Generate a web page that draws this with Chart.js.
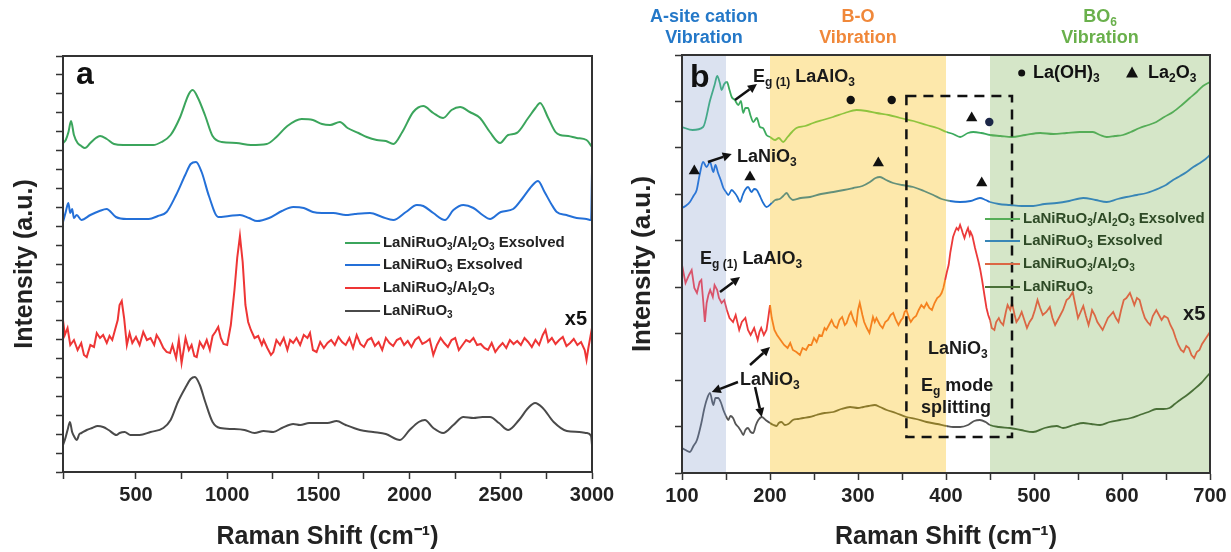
<!DOCTYPE html>
<html><head><meta charset="utf-8">
<script src="https://cdn.jsdelivr.net/npm/chart.js@4.4.1/dist/chart.umd.min.js"></script>
<style>
html,body{margin:0;padding:0;background:#fff;}
#wrap{position:relative;width:1231px;height:552px;overflow:hidden;background:#fff;}
#ca{position:absolute;left:0;top:0;}
#cb{position:absolute;left:600px;top:0;}
</style></head><body>
<div id="wrap"><canvas id="ca" width="640" height="552"></canvas><canvas id="cb" width="631" height="552"></canvas></div>
<script>
// ================= DATA =================
const seriesNames = ['LaNiRuO_{3}/Al_{2}O_{3} Exsolved', 'LaNiRuO_{3} Exsolved', 'LaNiRuO_{3}/Al_{2}O_{3}', 'LaNiRuO_{3}'];
const xTickLabelsA = [500, 1000, 1500, 2000, 2500, 3000];
const xTickLabelsB = [100, 200, 300, 400, 500, 600, 700];

// Panel a: [Raman shift, intensity (a.u., offset)]
const aGreen = [[100,329],[115,332],[130,340],[144,351],[160,337],[180,329],[200,326],[220,324],[250,329],[280,334],[303,336],[340,333],[380,328],[430,327],[480,327],[530,327],[595,327],[640,330],[690,337],[740,354],[790,378],[811,382],[840,374],[880,356],[920,336],[970,330],[1050,329],[1130,327],[1217,328],[1270,335],[1330,346],[1408,353],[1470,352],[1520,348],[1564,347],[1618,350],[1660,344],[1720,339],[1765,335],[1820,332],[1870,331],[1911,328],[1960,340],[2020,360],[2075,366],[2130,359],[2184,354],[2230,362],[2277,365],[2330,360],[2386,354],[2440,340],[2496,329],[2540,337],[2587,339],[2650,354],[2690,364],[2715,369],[2760,354],[2800,340],[2825,337],[2870,336],[2916,334],[2970,332],[3000,325]];
const aBlue = [[100,250],[115,260],[129,269],[140,259],[150,263],[160,254],[175,257],[201,252],[250,257],[300,261],[339,263],[390,255],[449,253],[510,253],[570,253],[620,256],[668,260],[720,277],[770,297],[800,308],[829,310],[860,300],[900,276],[951,255],[1010,256],[1070,257],[1120,254],[1164,251],[1230,254],[1300,261],[1362,265],[1420,264],[1470,260],[1520,259],[1582,259],[1650,257],[1700,258],[1783,259],[1850,255],[1911,252],[1980,260],[2040,267],[2075,266],[2130,259],[2194,252],[2240,262],[2295,267],[2350,264],[2400,257],[2441,253],[2500,260],[2568,263],[2620,274],[2670,286],[2704,291],[2740,280],[2780,267],[2807,260],[2860,257],[2916,254],[2970,253],[2995,252],[3000,300]];
const aRed = [[100,152],[110,137],[125,144],[140,127],[160,132],[180,122],[200,129],[215,117],[230,115],[250,127],[270,125],[285,139],[303,134],[320,137],[340,129],[355,136],[370,132],[385,142],[400,152],[410,167],[422,171],[435,154],[450,127],[465,139],[480,129],[500,135],[520,127],[540,140],[560,132],[580,134],[600,127],[613,137],[630,132],[650,124],[668,120],[687,119],[700,127],[720,114],[735,132],[750,109],[765,126],[772,134],[790,122],[805,127],[820,116],[833,115],[850,130],[870,124],[888,132],[905,122],[920,136],[935,140],[951,145],[965,134],[980,128],[1000,127],[1020,147],[1040,182],[1055,214],[1070,236],[1085,210],[1100,167],[1115,150],[1130,142],[1150,134],[1170,136],[1190,127],[1200,132],[1220,124],[1240,117],[1253,120],[1270,132],[1290,127],[1310,134],[1330,122],[1345,132],[1362,129],[1380,134],[1400,127],[1420,137],[1440,134],[1454,139],[1470,122],[1490,120],[1510,130],[1530,124],[1550,129],[1570,132],[1590,127],[1610,135],[1630,130],[1650,127],[1670,134],[1690,124],[1710,137],[1730,128],[1750,125],[1770,132],[1790,134],[1810,126],[1830,130],[1850,122],[1870,134],[1890,129],[1910,126],[1930,132],[1950,134],[1970,127],[1990,131],[2010,125],[2030,132],[2050,135],[2070,128],[2090,130],[2110,133],[2130,117],[2150,127],[2170,134],[2190,129],[2210,125],[2230,132],[2250,134],[2270,122],[2290,127],[2310,132],[2330,130],[2350,134],[2370,127],[2390,128],[2410,124],[2430,122],[2450,129],[2470,120],[2490,125],[2510,129],[2530,124],[2550,132],[2570,128],[2590,131],[2610,127],[2630,134],[2650,130],[2670,125],[2690,132],[2710,127],[2730,137],[2745,142],[2760,130],[2780,134],[2800,128],[2820,132],[2840,135],[2860,126],[2880,129],[2900,133],[2920,127],[2940,130],[2960,122],[2970,112],[2980,124],[2990,134],[3000,144]];
const aGrey = [[100,27],[110,32],[125,42],[138,50],[150,40],[160,36],[175,32],[190,38],[201,39],[230,42],[260,44],[290,46],[320,45],[350,42],[393,37],[410,39],[438,40],[470,37],[520,37],[580,40],[650,44],[690,52],[730,70],[770,84],[800,93],[823,95],[850,87],[880,70],[920,50],[961,44],[1030,43],[1095,42],[1150,39],[1200,41],[1253,40],[1300,44],[1362,48],[1400,47],[1450,49],[1500,49],[1550,49],[1600,51],[1650,47],[1728,42],[1800,40],[1870,38],[1947,32],[2000,42],[2050,50],[2084,52],[2130,44],[2184,39],[2240,47],[2295,55],[2350,54],[2400,55],[2441,55],[2490,49],[2541,42],[2600,52],[2650,64],[2688,69],[2730,64],[2790,50],[2862,41],[2930,40],[2970,39],[2995,36],[3000,27]];

// Panel b
const bGreen = [[100,346],[112,343],[124,346],[132,373],[137,388],[140,397],[143,390],[145,383],[148,389],[151,391],[154,383],[156.5,376],[160,373],[164,368],[167,372],[169.5,360],[172,365],[175,365],[178,357],[181,351],[185,355],[188.6,346],[192,345],[196,338],[200,336],[205.7,333],[210,335],[215,331],[220,336],[225,341],[230,345],[240,347],[249,350],[260,353],[271.6,356],[285,360],[298.5,363],[310,362],[321,360],[335,358],[348,355],[363,352],[378,348],[390,345],[400.8,341],[408,339],[416,336],[425,340],[431,341],[440,340],[450,338],[462,337],[474.7,336],[490,338],[507,340],[522,339],[537,340],[552,341],[567,341],[575,338],[582.6,336],[592,337],[601,338],[610,341],[620,345],[630,348],[639,351],[648,356],[658,361],[668,368],[677,375],[685,381],[692,387],[700,391]];
const bBlue = [[100,265],[104,267],[109,271],[113,277],[116.7,283],[120,298],[124,311],[128,306],[131.8,311],[135.6,301],[138,308],[141,300],[144,293],[147,285],[150,281],[152.6,278],[156.5,283],[160,280],[163,276],[166,271],[169,278],[171.6,283],[175,286],[179,281],[182,284],[185,283],[188,278],[190.6,273],[193,269],[196,266],[202,270],[206,273],[211,274],[215,277],[219,280],[222,276],[226,273],[235,275],[245.5,276],[258,279],[272,281],[284,283],[294.7,285],[305,287],[313.6,291],[320,295],[325,296],[332,293],[340,290],[350,288],[362.8,286],[375,282],[385.6,278],[395,274],[404.5,272],[416,271],[428,272],[438.6,275],[445,273],[450,271],[460,269],[472.7,268],[486,267],[499,267],[512,269],[525.8,270],[540,272],[556,275],[570,273],[582.6,271],[595,274],[605,276],[617,278],[628,280],[643,285],[650,288],[658,293],[666,297],[673.5,301],[681,306],[688.6,310],[695,314],[700,318]];
const bRed = [[100,208],[104,190],[108,198],[111,203],[114,185],[117,180],[120,191],[122,193],[124,173],[126,151],[128,170],[130,178],[132,183],[135,176],[137,188],[140,183],[142,175],[145,170],[148,173],[151,163],[154,155],[158,151],[161,158],[165,143],[168,151],[172,155],[175,143],[178,138],[182,145],[186,133],[188,141],[190,145],[193,138],[196,143],[198,155],[200,168],[202,155],[205,143],[208,138],[212,133],[216,128],[220,125],[223,130],[226,123],[230,121],[234,118],[237,125],[241,123],[244,128],[247,128],[250,135],[253,131],[256,138],[259,137],[262,145],[264,143],[267,148],[270,153],[273,147],[276,145],[279,153],[282,156],[285,148],[287,150],[290,158],[292,161],[295,153],[298,148],[300,163],[302,170],[305,158],[307,151],[310,145],[313,140],[315,148],[317,156],[319,151],[321,155],[325,148],[328,145],[331,151],[334,153],[337,158],[340,160],[343,153],[346,148],[349,153],[351,155],[353,161],[355,163],[358,155],[360,151],[363,155],[366,157],[369,163],[372,168],[375,165],[378,170],[381,165],[384,163],[387,170],[390,175],[393,177],[395,180],[397,185],[399,193],[401,201],[403,208],[405,221],[408,236],[410,241],[412,245],[414,243],[416,248],[418,243],[419,240],[421,235],[422,238],[424,243],[425,245],[427,238],[428,241],[430,237],[431,233],[433,225],[435,218],[437,211],[439,203],[441,193],[444,176],[446,165],[448,158],[450,153],[452,145],[455,143],[457,151],[460,155],[462,151],[465,148],[468,161],[470,168],[473,163],[475,170],[478,158],[480,151],[483,155],[486,161],[489,153],[492,145],[495,151],[498,155],[501,163],[504,173],[507,165],[510,158],[514,161],[518,166],[521,155],[524,148],[527,153],[530,158],[533,163],[537,173],[540,175],[544,181],[547,168],[550,155],[553,161],[556,167],[559,157],[562,148],[564,155],[566,163],[569,158],[572,151],[575,147],[578,143],[581,149],[584,155],[587,158],[590,161],[593,155],[596,151],[599,163],[602,173],[605,175],[609,180],[612,173],[614,168],[617,175],[620,173],[623,163],[626,155],[629,151],[632,148],[635,157],[639,163],[642,158],[645,153],[648,157],[652,155],[655,148],[658,143],[661,135],[664,128],[667,123],[670,121],[673,127],[676,125],[679,118],[682,115],[685,121],[688,123],[691,129],[694,133],[697,137],[700,141]];
const bGrey = [[100,25],[104,23],[109,21],[113,27],[117,33],[122,50],[125,63],[128,73],[131.8,80],[135.6,68],[138,75],[141,75],[144,71],[147,63],[150,57],[152.6,53],[155,57],[158,55],[161,49],[164,46],[167,42],[169.7,38],[172,43],[175,45],[178,41],[181,40],[184,48],[186.7,53],[190.6,56],[195,53],[200,50],[204,48],[207.6,47],[210,50],[213,51],[217,48],[220.8,49],[226,53],[232,54],[237.8,55],[245,56],[253,58],[262,60],[272,61],[281,64],[291,66],[300,65],[306,66],[312,67],[319,68],[325,66],[332.6,63],[343,60],[355,56],[366,54],[378,51],[390,49],[400.8,47],[408,46],[416,46],[425,48],[432,52],[438.6,53],[445,51],[450,48],[460,46],[472.7,45],[485,43],[499,41],[512,45],[525.8,47],[533,45],[545,48],[556,50],[565,49],[575,48],[586,51],[597.7,53],[610,55],[620,58],[630,61],[639,64],[647,64],[654,65],[660,69],[666,73],[674,78],[681,83],[690,90],[695,95],[700,100]];
// Panel b peak markers
const bTriangles = [[114,302],[177.3,296],[323.1,310],[440.6,290],[429.2,355]];
const bCircles = [[291.7,373],[338.3,373],[449.2,351]];

// ================= STYLE / LAYOUT =================
const FONT = "'Liberation Sans', Arial, Helvetica, sans-serif";
const aColors = ['#3ba55c', '#2470d8', '#ee3535', '#4a4a4a'];
// per region colors in panel b: [blue band, white, orange band, white, green band]
const bColors = [
  ['#45a98a', '#3caa5e', '#8fc43e', '#3caa5e', '#55ad57'],
  ['#2c76d6', '#1f6fd0', '#64907a', '#1f6fd0', '#3886b6'],
  ['#d9536a', '#ec3a3a', '#f5821f', '#ec3a3a', '#db6744'],
  ['#5b6578', '#555555', '#8c7a2c', '#555555', '#4a7038']
];
const bands = [
  {from: 100, to: 150, color: '#dbe2f0'},
  {from: 200, to: 400, color: '#fde8ab'},
  {from: 450, to: 700, color: '#d5e6c8'}
];

function region(x) { if (x < 150) return 0; if (x < 200) return 1; if (x < 400) return 2; if (x < 450) return 3; return 4; }
function pts(arr) { return arr.map(p => ({x: p[0], y: p[1]})); }

function parseRich(s) {
  const out = []; let i = 0, buf = '';
  while (i < s.length) {
    if ((s[i] === '_' || s[i] === '^') && s[i + 1] === '{') {
      if (buf) { out.push({t: buf, m: 0}); buf = ''; }
      const j = s.indexOf('}', i);
      out.push({t: s.slice(i + 2, j), m: s[i] === '_' ? 1 : 2});
      i = j + 1;
    } else { buf += s[i]; i++; }
  }
  if (buf) out.push({t: buf, m: 0});
  return out;
}
function drawRich(ctx, s, x, y, size, color, align) {
  const parts = parseRich(s);
  let w = 0;
  parts.forEach(p => { p.sz = p.m ? Math.round(size * 0.68) : size; ctx.font = 'bold ' + p.sz + 'px ' + FONT; p.w = ctx.measureText(p.t).width; w += p.w; });
  let cx = align === 'center' ? x - w / 2 : (align === 'right' ? x - w : x);
  ctx.fillStyle = color; ctx.textBaseline = 'middle'; ctx.textAlign = 'left';
  parts.forEach(p => {
    ctx.font = 'bold ' + p.sz + 'px ' + FONT;
    const dy = p.m === 1 ? size * 0.3 : (p.m === 2 ? -size * 0.35 : 0);
    ctx.fillText(p.t, cx, y + dy);
    cx += p.w;
  });
}
function arrow(ctx, x1, y1, x2, y2) {
  const ang = Math.atan2(y2 - y1, x2 - x1), hl = 9, hw = 4.5;
  const bx = x2 - hl * Math.cos(ang), by = y2 - hl * Math.sin(ang);
  ctx.strokeStyle = '#111'; ctx.fillStyle = '#111'; ctx.lineWidth = 2.5;
  ctx.beginPath(); ctx.moveTo(x1, y1); ctx.lineTo(bx, by); ctx.stroke();
  ctx.beginPath(); ctx.moveTo(x2, y2);
  ctx.lineTo(bx + hw * Math.sin(ang), by - hw * Math.cos(ang));
  ctx.lineTo(bx - hw * Math.sin(ang), by + hw * Math.cos(ang));
  ctx.closePath(); ctx.fill();
}
function P(chart, x, y) { return [chart.scales.x.getPixelForValue(x), chart.scales.y.getPixelForValue(y)]; }

function axisCommon(extra) {
  return Object.assign({
    grid: {drawOnChartArea: false, drawTicks: true, tickLength: 7, tickColor: '#333', tickWidth: 1.5},
    border: {display: true, color: '#333', width: 2}
  }, extra);
}

Chart.defaults.font.family = FONT;
Chart.defaults.color = '#222';

// ================= PANEL A =================
const decoA = {
  id: 'decoA',
  afterDraw(chart) {
    const ctx = chart.ctx, a = chart.chartArea;
    ctx.save();
    ctx.strokeStyle = '#333'; ctx.lineWidth = 2;
    ctx.strokeRect(a.left, a.top, a.right - a.left, a.bottom - a.top);
    let [px, py] = P(chart, 171, 397);
    drawRich(ctx, 'a', px, py, 32, '#111', 'left');
    const legY = [229, 207, 184, 161];
    legY.forEach((yv, i) => {
      const [x1, yy] = P(chart, 1646, yv), [x2] = P(chart, 1838, yv), [tx] = P(chart, 1854, yv);
      ctx.strokeStyle = aColors[i]; ctx.lineWidth = 2;
      ctx.beginPath(); ctx.moveTo(x1, yy); ctx.lineTo(x2, yy); ctx.stroke();
      drawRich(ctx, seriesNames[i], tx, yy, 15, '#222', 'left');
    });
    [px, py] = P(chart, 2912, 153);
    drawRich(ctx, 'x5', px, py, 20, '#111', 'center');
    ctx.restore();
  }
};

new Chart(document.getElementById('ca'), {
  type: 'line',
  data: {
    datasets: [aGreen, aBlue, aRed, aGrey].map((d, i) => ({
      label: seriesNames[i], data: pts(d), borderColor: aColors[i], borderWidth: 2,
      pointRadius: 0, cubicInterpolationMode: i === 2 ? 'default' : 'monotone', tension: 0
    }))
  },
  options: {
    responsive: false, animation: false, devicePixelRatio: 1,
    layout: {padding: {top: 56, right: 48, bottom: 0, left: 0}},
    plugins: {legend: {display: false}, tooltip: {enabled: false}},
    scales: {
      x: axisCommon({
        type: 'linear', min: 100, max: 3000,
        ticks: {stepSize: 250, autoSkip: false, maxRotation: 0, padding: 4, color: '#222',
          font: {size: 20, weight: 'bold'}, callback: v => xTickLabelsA.includes(v) ? String(v) : ''},
        title: {display: true, text: 'Raman Shift (cm⁻¹)', color: '#222', font: {size: 25, weight: 'bold'}, padding: {top: 0, bottom: 0}},
        afterFit: s => { s.height = 80; }
      }),
      y: axisCommon({
        type: 'linear', min: 0, max: 416,
        ticks: {count: 23, callback: () => '', font: {size: 10}},
        title: {display: true, text: 'Intensity (a.u.)', color: '#222', font: {size: 25, weight: 'bold'}, padding: {top: 10, bottom: 0}},
        afterFit: s => { s.width = 63; }
      })
    }
  },
  plugins: [decoA]
});

// ================= PANEL B =================
const decoB = {
  id: 'decoB',
  beforeDraw(chart) {
    const ctx = chart.ctx, a = chart.chartArea, x = chart.scales.x;
    ctx.save();
    bands.forEach(b => {
      const x1 = x.getPixelForValue(b.from), x2 = x.getPixelForValue(b.to);
      ctx.fillStyle = b.color; ctx.fillRect(x1, a.top, x2 - x1, a.bottom - a.top);
    });
    ctx.restore();
  },
  afterDatasetsDraw(chart) {
    const ctx = chart.ctx;
    const [x1, y1] = P(chart, 355, 377), [x2, y2] = P(chart, 475, 36);
    ctx.save();
    ctx.strokeStyle = '#111'; ctx.lineWidth = 2.5; ctx.setLineDash([10, 7]);
    ctx.strokeRect(x1, y1, x2 - x1, y2 - y1);
    ctx.restore();
  },
  afterDraw(chart) {
    const ctx = chart.ctx, a = chart.chartArea;
    ctx.save();
    ctx.strokeStyle = '#333'; ctx.lineWidth = 2;
    ctx.strokeRect(a.left, a.top, a.right - a.left, a.bottom - a.top);
    // band headers
    const heads = [[125, 'A-site cation', 'Vibration', '#2478c8'], [300, 'B-O', 'Vibration', '#f0883a'], [575, 'BO_{6}', 'Vibration', '#6ab04c']];
    heads.forEach(h => {
      let [px, py] = P(chart, h[0], 456); drawRich(ctx, h[1], px, py, 18, h[3], 'center');
      [px, py] = P(chart, h[0], 435); drawRich(ctx, h[2], px, py, 18, h[3], 'center');
    });
    let [px, py] = P(chart, 109, 395);
    drawRich(ctx, 'b', px, py, 32, '#111', 'left');
    // annotations
    const notes = [
      [180.7, 396, 'E_{g (1)} LaAlO_{3}'], [162.5, 315.5, 'LaNiO_{3}'], [120.5, 214, 'E_{g (1)} LaAlO_{3}'],
      [165.9, 93, 'LaNiO_{3}'], [379.5, 124, 'LaNiO_{3}'], [371.6, 87, 'E_{g} mode'], [371.6, 65, 'splitting']
    ];
    notes.forEach(n => { const [nx, ny] = P(chart, n[0], n[1]); drawRich(ctx, n[2], nx, ny, 18, '#1a1a1a', 'left'); });
    const arrows = [[160.2, 373, 185.2, 389], [129.5, 311, 156.5, 319], [143.2, 181, 165.9, 196], [177.3, 108, 200, 126], [163.6, 91, 133.8, 81], [183, 86, 190.6, 56]];
    arrows.forEach(r => { const [ax1, ay1] = P(chart, r[0], r[1]), [ax2, ay2] = P(chart, r[2], r[3]); arrow(ctx, ax1, ay1, ax2, ay2); });
    // x5
    [px, py] = P(chart, 682, 159); drawRich(ctx, 'x5', px, py, 20, '#1a1a1a', 'center');
    // marker legend
    [px, py] = P(chart, 486, 400);
    ctx.fillStyle = '#111'; ctx.beginPath(); ctx.arc(px, py, 3.5, 0, Math.PI * 2); ctx.fill();
    [px, py] = P(chart, 498.9, 400); drawRich(ctx, 'La(OH)_{3}', px, py, 18, '#111', 'left');
    [px, py] = P(chart, 611.4, 400);
    ctx.fillStyle = '#111'; ctx.beginPath(); ctx.moveTo(px, py - 6.5); ctx.lineTo(px + 6, py + 4.5); ctx.lineTo(px - 6, py + 4.5); ctx.closePath(); ctx.fill();
    [px, py] = P(chart, 629.5, 400); drawRich(ctx, 'La_{2}O_{3}', px, py, 18, '#111', 'left');
    // series legend
    const legY = [254, 232, 209, 186];
    legY.forEach((yv, i) => {
      const [lx1, ly] = P(chart, 444.3, yv), [lx2] = P(chart, 484.1, yv), [tx] = P(chart, 487.5, yv);
      ctx.strokeStyle = bColors[i][4]; ctx.lineWidth = 2;
      ctx.beginPath(); ctx.moveTo(lx1, ly); ctx.lineTo(lx2, ly); ctx.stroke();
      drawRich(ctx, seriesNames[i], tx, ly, 15, '#2e4a26', 'left');
    });
    ctx.restore();
  }
};

const bLineSets = [bGreen, bBlue, bRed, bGrey].map((d, i) => ({
  label: seriesNames[i], data: pts(d), borderColor: bColors[i][1], borderWidth: 1.8, pointRadius: 0,
  cubicInterpolationMode: i === 2 ? 'default' : 'monotone', tension: 0,
  segment: {borderColor: ctx => bColors[i][region((ctx.p0.parsed.x + ctx.p1.parsed.x) / 2)]}
}));

new Chart(document.getElementById('cb'), {
  type: 'line',
  data: {
    datasets: [
      {label: 'La2O3', data: pts(bTriangles), showLine: false, pointStyle: 'triangle', pointRadius: 6.5, pointBorderWidth: 0, pointBackgroundColor: '#111', pointBorderColor: '#111'},
      {label: 'La(OH)3', data: pts(bCircles), showLine: false, pointStyle: 'circle', pointRadius: 4.2, pointBorderWidth: 0, pointBackgroundColor: ['#111', '#111', '#1c2748'], pointBorderColor: '#111'}
    ].concat(bLineSets)
  },
  options: {
    responsive: false, animation: false, devicePixelRatio: 1,
    layout: {padding: {top: 55, right: 21, bottom: 0, left: 0}},
    plugins: {legend: {display: false}, tooltip: {enabled: false}},
    scales: {
      x: axisCommon({
        type: 'linear', min: 100, max: 700,
        ticks: {stepSize: 50, autoSkip: false, maxRotation: 0, padding: 4, color: '#222',
          font: {size: 20, weight: 'bold'}, callback: v => xTickLabelsB.includes(v) ? String(v) : ''},
        title: {display: true, text: 'Raman Shift (cm⁻¹)', color: '#222', font: {size: 25, weight: 'bold'}, padding: {top: 0, bottom: 0}},
        afterFit: s => { s.height = 79; }
      }),
      y: axisCommon({
        type: 'linear', min: 0, max: 418,
        ticks: {count: 10, callback: () => '', font: {size: 10}},
        title: {display: true, text: 'Intensity (a.u.)', color: '#222', font: {size: 26, weight: 'bold'}, padding: {top: 27, bottom: 0}},
        afterFit: s => { s.width = 82; }
      })
    }
  },
  plugins: [decoB]
});
</script></body></html>
